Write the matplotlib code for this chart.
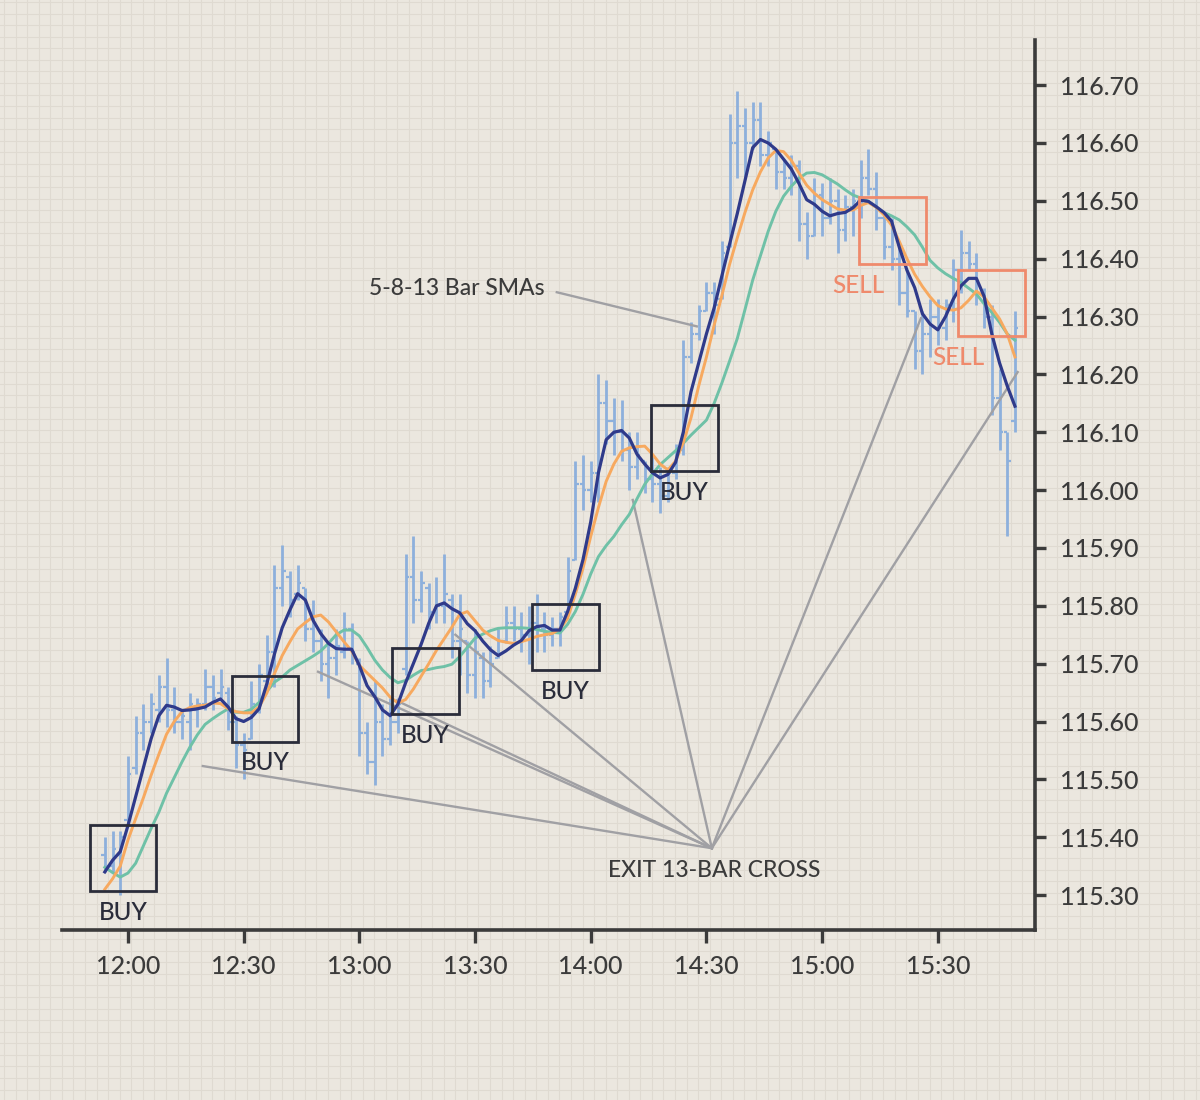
import numpy as np
import pandas as pd
import matplotlib
matplotlib.use('Agg')
import matplotlib.pyplot as plt
import matplotlib.dates as mdates
from matplotlib.patches import Rectangle

plt.rcParams['font.family'] = ['Lato', 'DejaVu Sans']
plt.rcParams['font.weight'] = 'medium'

# 2-minute bars, 11:54 -> 15:50
first_bar = '2024-01-02 11:54'
highs = [115.40, 115.41, 115.41, 115.54, 115.61, 115.63, 115.65, 115.68, 115.71, 115.66,
         115.62, 115.65, 115.64, 115.69, 115.68, 115.69, 115.66, 115.61, 115.58, 115.67,
         115.70, 115.75, 115.87, 115.905, 115.86, 115.87, 115.83, 115.81, 115.76, 115.74,
         115.76, 115.79, 115.77, 115.71, 115.60, 115.67, 115.63, 115.64, 115.64, 115.89,
         115.92, 115.86, 115.84, 115.85, 115.89, 115.82, 115.82, 115.74, 115.76, 115.72,
         115.73, 115.76, 115.80, 115.80, 115.79, 115.80, 115.82, 115.79, 115.78, 115.79,
         115.885, 116.05, 116.06, 116.05, 116.20, 116.19, 116.16, 116.155, 116.10, 116.10,
         116.05, 116.06, 116.04, 116.04, 116.08, 116.26, 116.29, 116.32, 116.36, 116.36,
         116.43, 116.65, 116.69, 116.66, 116.67, 116.67, 116.62, 116.59, 116.57, 116.58,
         116.57, 116.48, 116.54, 116.53, 116.54, 116.52, 116.51, 116.52, 116.57, 116.59,
         116.55, 116.48, 116.47, 116.42, 116.38, 116.31, 116.31, 116.33, 116.33, 116.33,
         116.40, 116.45, 116.43, 116.41, 116.35, 116.32, 116.21, 116.10, 116.31]
lows = [115.34, 115.34, 115.30, 115.42, 115.51, 115.55, 115.58, 115.60, 115.59, 115.58,
        115.57, 115.55, 115.59, 115.62, 115.62, 115.64, 115.585, 115.52, 115.50, 115.57,
        115.615, 115.655, 115.66, 115.80, 115.78, 115.81, 115.74, 115.72, 115.67, 115.64,
        115.68, 115.71, 115.70, 115.54, 115.51, 115.49, 115.54, 115.56, 115.58, 115.68,
        115.77, 115.79, 115.76, 115.77, 115.77, 115.71, 115.68, 115.65, 115.64, 115.64,
        115.66, 115.71, 115.735, 115.74, 115.72, 115.70, 115.72, 115.72, 115.73, 115.73,
        115.79, 115.88, 115.965, 115.98, 115.98, 116.08, 116.06, 116.05, 116.00, 116.02,
        115.995, 115.98, 115.96, 115.98, 116.02, 116.06, 116.22, 116.26, 116.31, 116.27,
        116.33, 116.42, 116.54, 116.54, 116.59, 116.56, 116.56, 116.52, 116.52, 116.51,
        116.43, 116.40, 116.44, 116.44, 116.46, 116.41, 116.43, 116.44, 116.47, 116.51,
        116.45, 116.40, 116.38, 116.32, 116.30, 116.21, 116.20, 116.23, 116.25, 116.26,
        116.29, 116.34, 116.38, 116.32, 116.28, 116.13, 116.07, 115.92, 116.10]
opens = [115.37, 115.35, 115.37, 115.43, 115.52, 115.58, 115.60, 115.62, 115.66, 115.62,
         115.60, 115.60, 115.62, 115.63, 115.66, 115.65, 115.65, 115.60, 115.56, 115.57,
         115.63, 115.67, 115.72, 115.83, 115.85, 115.82, 115.83, 115.76, 115.74, 115.70,
         115.71, 115.72, 115.76, 115.70, 115.58, 115.53, 115.60, 115.57, 115.60, 115.69,
         115.85, 115.81, 115.83, 115.79, 115.80, 115.81, 115.74, 115.74, 115.68, 115.71,
         115.67, 115.71, 115.74, 115.77, 115.76, 115.75, 115.77, 115.76, 115.75, 115.76,
         115.79, 115.88, 116.01, 116.00, 116.03, 116.15, 116.12, 116.10, 116.07, 116.04,
         116.05, 116.02, 116.01, 115.99, 116.03, 116.07, 116.23, 116.27, 116.31, 116.34,
         116.33, 116.42, 116.60, 116.63, 116.60, 116.64, 116.58, 116.59, 116.55, 116.54,
         116.56, 116.46, 116.44, 116.51, 116.47, 116.50, 116.45, 116.49, 116.50, 116.54,
         116.52, 116.47, 116.42, 116.40, 116.34, 116.31, 116.24, 116.27, 116.30, 116.28,
         116.32, 116.38, 116.41, 116.39, 116.34, 116.30, 116.16, 116.10, 116.12]
closes = [115.35, 115.38, 115.40, 115.51, 115.58, 115.60, 115.63, 115.66, 115.62, 115.60,
          115.61, 115.63, 115.63, 115.66, 115.64, 115.66, 115.60, 115.56, 115.55, 115.63,
          115.68, 115.72, 115.83, 115.86, 115.81, 115.84, 115.76, 115.74, 115.70, 115.71,
          115.73, 115.76, 115.72, 115.58, 115.53, 115.60, 115.57, 115.60, 115.63, 115.85,
          115.81, 115.84, 115.79, 115.80, 115.82, 115.74, 115.76, 115.68, 115.72, 115.67,
          115.70, 115.74, 115.77, 115.76, 115.75, 115.77, 115.76, 115.75, 115.76, 115.78,
          115.86, 116.01, 116.00, 116.03, 116.15, 116.12, 116.10, 116.07, 116.04, 116.06,
          116.02, 116.01, 115.99, 116.03, 116.07, 116.23, 116.27, 116.31, 116.34, 116.32,
          116.41, 116.60, 116.63, 116.60, 116.64, 116.58, 116.60, 116.55, 116.54, 116.56,
          116.46, 116.44, 116.51, 116.47, 116.50, 116.45, 116.49, 116.50, 116.54, 116.52,
          116.47, 116.42, 116.40, 116.34, 116.31, 116.24, 116.27, 116.30, 116.28, 116.32,
          116.38, 116.41, 116.39, 116.34, 116.30, 116.16, 116.10, 116.05, 116.28]

# moving averages as drawn on the chart (one value per bar)
sma5 = [115.34, 115.36, 115.375, 115.42, 115.47, 115.52, 115.57, 115.61, 115.628, 115.625,
        115.619, 115.62, 115.622, 115.625, 115.633, 115.639, 115.625, 115.605, 115.600, 115.607,
        115.622, 115.665, 115.717, 115.762, 115.793, 115.821, 115.810, 115.775, 115.752, 115.735,
        115.726, 115.725, 115.725, 115.697, 115.662, 115.643, 115.62, 115.61, 115.63, 115.667,
        115.70, 115.733, 115.770, 115.80, 115.805, 115.795, 115.788, 115.769, 115.757, 115.739,
        115.724, 115.714, 115.722, 115.732, 115.74, 115.757, 115.764, 115.766, 115.758, 115.758,
        115.79, 115.83, 115.88, 115.945, 116.03, 116.087, 116.10, 116.103, 116.09, 116.062,
        116.045, 116.03, 116.021, 116.027, 116.048, 116.10, 116.17, 116.22, 116.27, 116.315,
        116.37, 116.425, 116.478, 116.535, 116.592, 116.606, 116.60, 116.589, 116.572, 116.555,
        116.53, 116.502, 116.494, 116.482, 116.474, 116.478, 116.48, 116.488, 116.501, 116.499,
        116.49, 116.48, 116.465, 116.42, 116.38, 116.35, 116.305, 116.287, 116.277, 116.30,
        116.33, 116.353, 116.366, 116.366, 116.335, 116.27, 116.22, 116.18, 116.145]
sma8 = [115.31, 115.328, 115.35, 115.395, 115.432, 115.468, 115.507, 115.543, 115.578, 115.60,
        115.617, 115.624, 115.627, 115.628, 115.632, 115.631, 115.622, 115.617, 115.615, 115.615,
        115.625, 115.649, 115.683, 115.714, 115.738, 115.76, 115.771, 115.781, 115.784, 115.772,
        115.755, 115.738, 115.722, 115.697, 115.684, 115.671, 115.658, 115.642, 115.632, 115.638,
        115.656, 115.678, 115.70, 115.723, 115.743, 115.763, 115.785, 115.79, 115.774, 115.758,
        115.748, 115.740, 115.737, 115.735, 115.738, 115.742, 115.747, 115.75, 115.752, 115.76,
        115.778, 115.82, 115.865, 115.92, 115.97, 116.015, 116.045, 116.067, 116.073, 116.075,
        116.076, 116.062, 116.045, 116.035, 116.05, 116.082, 116.125, 116.18, 116.23, 116.285,
        116.336, 116.39, 116.436, 116.48, 116.519, 116.55, 116.574, 116.587, 116.585, 116.57,
        116.548, 116.527, 116.513, 116.502, 116.494, 116.486, 116.484, 116.484, 116.492, 116.497,
        116.489, 116.476, 116.458, 116.43, 116.40, 116.373, 116.352, 116.334, 116.319, 116.313,
        116.311, 116.315, 116.328, 116.344, 116.334, 116.315, 116.296, 116.27, 116.23]
sma13 = [115.348, 115.339, 115.331, 115.338, 115.355, 115.385, 115.415, 115.443, 115.476, 115.503,
         115.53, 115.555, 115.577, 115.595, 115.605, 115.614, 115.622, 115.616, 115.616, 115.621,
         115.633, 115.652, 115.668, 115.677, 115.689, 115.697, 115.705, 115.713, 115.722, 115.735,
         115.75, 115.758, 115.758, 115.748, 115.728, 115.706, 115.689, 115.676, 115.667, 115.671,
         115.68, 115.688, 115.69, 115.693, 115.695, 115.699, 115.712, 115.728, 115.744, 115.751,
         115.757, 115.761, 115.762, 115.762, 115.762, 115.761, 115.759, 115.756, 115.754, 115.753,
         115.768, 115.79, 115.82, 115.855, 115.885, 115.904, 115.92, 115.94, 115.958, 115.985,
         116.01, 116.028, 116.044, 116.056, 116.068, 116.081, 116.095, 116.108, 116.121, 116.15,
         116.185, 116.223, 116.262, 116.312, 116.363, 116.405, 116.447, 116.482, 116.508, 116.525,
         116.539, 116.548, 116.549, 116.545, 116.537, 116.529, 116.519, 116.51, 116.505, 116.499,
         116.489, 116.48, 116.474, 116.467, 116.455, 116.441, 116.42, 116.397, 116.384, 116.374,
         116.366, 116.359, 116.349, 116.339, 116.322, 116.307, 116.29, 116.27, 116.259]

price_ticks = [115.30, 115.40, 115.50, 115.60, 115.70, 115.80, 115.90,
               116.00, 116.10, 116.20, 116.30, 116.40, 116.50, 116.60, 116.70]
time_ticks = ['12:00', '12:30', '13:00', '13:30', '14:00', '14:30', '15:00', '15:30']

# signal boxes: (from minute, to minute after noon, low, high)
buy_boxes = [(-9.9, 7.3, 115.307, 115.421), (27.0, 44.1, 115.565, 115.679),
             (68.4, 85.8, 115.613, 115.727), (104.7, 122.1, 115.689, 115.803),
             (135.6, 153.0, 116.033, 116.147)]
sell_boxes = [(189.5, 206.9, 116.391, 116.506), (215.2, 232.6, 116.266, 116.380)]
# spots the "EXIT 13-BAR CROSS" lines point at: (minute after noon, price)
exit_points = [(19.4, 115.523), (49.3, 115.686), (69.7, 115.636), (84.9, 115.750),
               (130.9, 115.983), (205.6, 116.297), (230.7, 116.204)]

BG = '#ebe7df'
PAPER = '#dfdad1'
BAR = '#8db0dc'
NAVY = '#2f3a8a'
ORANGE = '#f7a95f'
TEAL = '#6fc1a7'
DARK = '#2a2c3a'
AXIS = '#3b3b3b'
SALMON = '#ef8a6c'
GREY = '#a0a0a4'

NOON = pd.Timestamp('2024-01-02 12:00')


def tm(minutes):
    """ minutes after noon -> matplotlib date number """
    return mdates.date2num(NOON + pd.Timedelta(minutes=minutes))


def draw_paper(fig):
    """ graph-paper texture behind everything """
    bg = fig.add_axes([0, 0, 1, 1], zorder=0)
    bg.set_xlim(0, 1200)
    bg.set_ylim(1100, 0)
    bg.axis('off')
    step = 11.57
    for g in np.arange(4, 1200, step):
        bg.axvline(g, color=PAPER, lw=0.8)
    for g in np.arange(2, 1100, step):
        bg.axhline(g, color=PAPER, lw=0.8)


def draw_chart(ax):
    times = pd.date_range(first_bar, periods=len(highs), freq='2min')
    x = mdates.date2num(times)
    tick = 0.9 / 1440

    ax.vlines(x, lows, highs, color=BAR, lw=2, zorder=2)
    ax.hlines(opens, x - tick, x, color=BAR, lw=1.6, zorder=2)
    ax.hlines(closes, x, x + tick, color=BAR, lw=1.6, zorder=2)

    # exit fan
    hub = (tm(151.4), 115.381)
    for m, p in exit_points:
        ax.plot([hub[0], tm(m)], [hub[1], p], color=GREY, lw=1.7, zorder=3)
    ax.plot([tm(111.2), tm(147.5)], [116.342, 116.283], color=GREY, lw=1.7, zorder=3)

    ax.plot(x, sma13, color=TEAL, lw=2.1, zorder=4)
    ax.plot(x, sma8, color=ORANGE, lw=2.1, zorder=5)
    ax.plot(x, sma5, color=NAVY, lw=2.3, zorder=6)

    for t0, t1, lo, hi in buy_boxes:
        ax.add_patch(Rectangle((tm(t0), lo), tm(t1) - tm(t0), hi - lo, fill=False,
                               ec=DARK, lw=2.0, zorder=7))
        ax.annotate('BUY', ((tm(t0) + tm(t1)) / 2, lo), xytext=(0, -7), textcoords='offset points',
                    ha='center', va='top', fontsize=17.5, color=DARK, zorder=7)
    for t0, t1, lo, hi in sell_boxes:
        ax.add_patch(Rectangle((tm(t0), lo), tm(t1) - tm(t0), hi - lo, fill=False,
                               ec=SALMON, lw=2.0, zorder=7))
        ax.annotate('SELL', (tm(t0), lo), xytext=(0, -7), textcoords='offset points',
                    ha='center', va='top', fontsize=17.5, color=SALMON, zorder=7)

    ax.text(tm(85.3), 116.349, '5-8-13 Bar SMAs', ha='center', va='center',
            fontsize=16.5, color=AXIS, zorder=7)
    ax.text(tm(151.9), 115.343, 'EXIT 13-BAR CROSS', ha='center', va='center',
            fontsize=16.5, color=AXIS, zorder=7)

    ax.set_xlim(tm(-17.1), tm(235.2))
    ax.set_ylim(115.2396, 116.778)
    h, m = zip(*[s.split(':') for s in time_ticks])
    ax.set_xticks([tm((int(a) - 12) * 60 + int(b)) for a, b in zip(h, m)])
    ax.set_xticklabels(time_ticks)
    ax.set_yticks(price_ticks)
    ax.set_yticklabels([f'{p:.2f}' for p in price_ticks])

    ax.yaxis.tick_right()
    for side in ('left', 'top'):
        ax.spines[side].set_visible(False)
    for side in ('right', 'bottom'):
        ax.spines[side].set_color(AXIS)
        ax.spines[side].set_linewidth(2.6)
    ax.tick_params(axis='x', direction='out', length=9, width=2.4, color=AXIS,
                   pad=9, labelsize=18, labelcolor=AXIS)
    ax.tick_params(axis='y', direction='out', length=8, width=2.4, color=AXIS,
                   pad=10, labelsize=18, labelcolor=AXIS)


if __name__ == '__main__':
    fig = plt.figure(figsize=(12, 11), dpi=100)
    fig.patch.set_facecolor(BG)
    draw_paper(fig)
    ax = fig.add_axes([62 / 1200, 170 / 1100, 973 / 1200, 890 / 1100], zorder=1)
    ax.patch.set_alpha(0)
    draw_chart(ax)
    fig.savefig('out.png', dpi=100, facecolor=BG)
